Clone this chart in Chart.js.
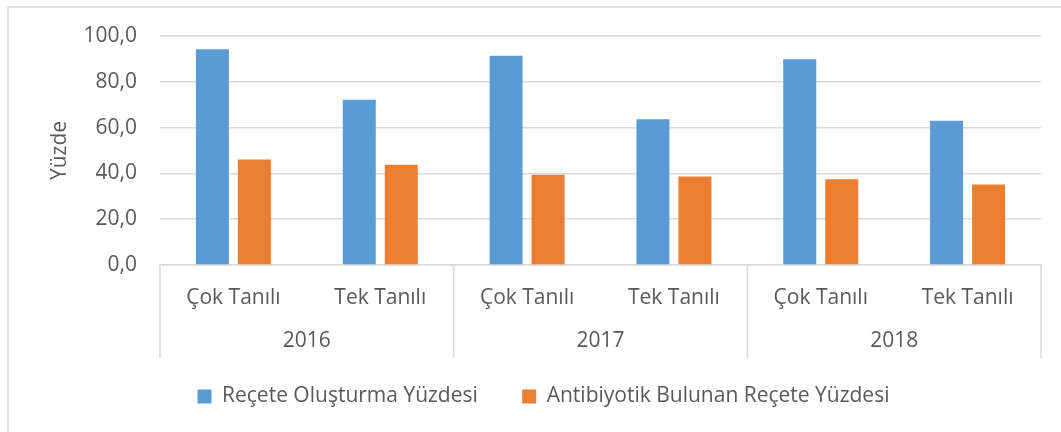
<!DOCTYPE html>
<html>
<head>
<meta charset="utf-8">
<title>Reçete Yüzdeleri</title>
<script src="https://cdn.jsdelivr.net/npm/chart.js@4/dist/chart.umd.min.js"></script>
<style>
  html, body { margin: 0; padding: 0; background: #fff; }
  #wrap { position: relative; width: 1061px; height: 432px; overflow: hidden; }
  #frame { position: absolute; left: 7px; top: 6px; width: 1100px; height: 500px; border: 2px solid #e2e2e2; box-sizing: border-box; }
  #chart { position: absolute; left: 0; top: 0; }
</style>
</head>
<body>
<div id="wrap">
  <div id="frame"></div>
  <canvas id="chart" width="1061" height="432"></canvas>
</div>
<script>
// categories: diagnosis type under each year
const years = ['2016', '2017', '2018'];
const subLabels = ['Çok Tanılı', 'Tek Tanılı', 'Çok Tanılı', 'Tek Tanılı', 'Çok Tanılı', 'Tek Tanılı'];

// percentages per category
const receteYuzdesi = [94.2, 72.2, 91.4, 63.6, 89.9, 63.0];
const antibiyotikYuzdesi = [46.1, 43.8, 39.4, 38.7, 37.4, 35.2];

// y axis range
const yMin = 0;
const yMax = 100;
const yStep = 20;

const gridColor = '#d9d9d9';
const textColor = '#595959';

Chart.defaults.font.family = "'Open Sans', sans-serif";
Chart.defaults.font.size = 21;
Chart.defaults.color = textColor;

// vertical separators between the year groups, through both label rows
const groupLines = {
  id: 'groupLines',
  afterDraw(chart) {
    const x = chart.scales.x;
    const x2 = chart.scales.x2;
    const ctx = chart.ctx;
    ctx.save();
    ctx.strokeStyle = gridColor;
    ctx.lineWidth = 1.5;
    for (let g = 0; g <= years.length; g++) {
      const px = x.getPixelForValue(g * 2 - 0.5);
      ctx.beginPath();
      ctx.moveTo(px, x.top);
      ctx.lineTo(px, x2.bottom);
      ctx.stroke();
    }
    ctx.restore();
  }
};

const data = {
  labels: subLabels,
  datasets: [{
    label: 'Reçete Oluşturma Yüzdesi',
    data: receteYuzdesi,
    backgroundColor: '#5b9bd5',
    categoryPercentage: 0.572,
    barPercentage: 0.786
  },
  {
    label: 'Antibiyotik Bulunan Reçete Yüzdesi',
    data: antibiyotikYuzdesi,
    backgroundColor: '#ed7d31',
    categoryPercentage: 0.572,
    barPercentage: 0.786
  }]
};

const config = {
  type: 'bar',
  data,
  options: {
    responsive: false,
    animation: false,
    layout: { padding: { left: 46, right: 20, top: 36, bottom: 15 } },
    scales: {
      y: {
        min: yMin,
        max: yMax,
        ticks: {
          stepSize: yStep,
          padding: 23,
          callback: value => value.toFixed(1).replace('.', ',')
        },
        grid: { color: gridColor, lineWidth: 1.5, drawTicks: false },
        border: { display: false },
        title: { display: true, text: 'Yüzde', padding: { top: 1, bottom: 0 } },
        afterFit: scale => { scale.width = 114; }
      },
      x: {
        grid: { display: false, drawTicks: false },
        border: { display: true, color: gridColor, width: 1.5 },
        ticks: { padding: 20, maxRotation: 0, autoSkip: false },
        afterFit: scale => { scale.height = 56; }
      },
      x2: {
        type: 'category',
        position: 'bottom',
        labels: years,
        offset: true,
        weight: 1,
        grid: { display: false, drawTicks: false },
        border: { display: false },
        ticks: { padding: 7, maxRotation: 0 },
        afterFit: scale => { scale.height = 37; }
      }
    },
    plugins: {
      tooltip: { enabled: false },
      legend: {
        position: 'bottom',
        labels: {
          boxWidth: 14,
          boxHeight: 14,
          padding: 28,
          color: textColor,
          // a little extra room after each item but the last
          generateLabels(chart) {
            const items = Chart.defaults.plugins.legend.labels.generateLabels(chart);
            items.forEach((item, i) => {
              if (i < items.length - 1) item.text += '\u00a0\u00a0\u00a0';
            });
            return items;
          }
        }
      }
    }
  },
  plugins: [groupLines]
};

const chart = new Chart(document.getElementById('chart'), config);
</script>
</body>
</html>
